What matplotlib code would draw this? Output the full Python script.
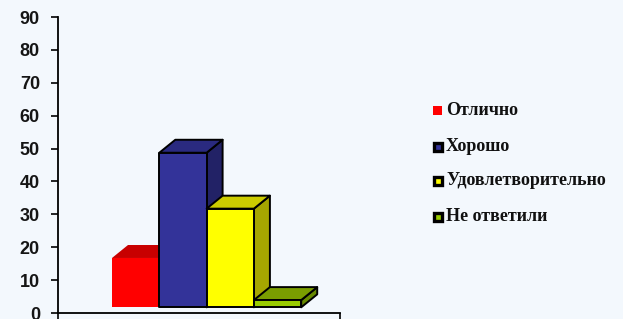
import matplotlib
matplotlib.use("Agg")
import matplotlib.pyplot as plt
from matplotlib.patches import Polygon, Rectangle

# ---- data ----
categories = ["Отлично", "Хорошо", "Удовлетворительно", "Не ответили"]
values = [15, 47, 30, 2.2]
front_colors = ["#FF0000", "#333399", "#FFFF00", "#99CC00"]
top_colors = ["#C80000", "#2A2A80", "#CCCC00", "#7A9E00"]
side_colors = ["#A00000", "#222266", "#A6A600", "#668800"]
edge_on = [False, True, True, True]
y_ticks = [0, 10, 20, 30, 40, 50, 60, 70, 80, 90]

W, H = 623, 319
fig = plt.figure(figsize=(W / 100, H / 100), dpi=100)
bg = "#F3F8FD"
fig.patch.set_facecolor(bg)

ax = fig.add_axes([58 / W, 6 / H, 282 / W, 296 / H])
ax.set_facecolor(bg)
ax.set_ylim(0, 90)
ax.set_xlim(-1.1416, 4.820)

# 3D geometry (data units)
bar_w = 1.0
dx = 16 / 47.3          # depth offset in x
dy = 13 / 3.296         # depth offset in y
base = 5.7 / 3.296      # front base sits above the axis

for i, v in enumerate(values):
    x0 = i * bar_w
    x1 = x0 + bar_w
    y0 = base
    y1 = base + v
    ec = "black" if edge_on[i] else "none"
    lw = 1.4 if edge_on[i] else 0
    top = Polygon([(x0, y1), (x1, y1), (x1 + dx, y1 + dy), (x0 + dx, y1 + dy)],
                  closed=True, facecolor=top_colors[i], edgecolor=ec, linewidth=lw,
                  joinstyle="round")
    side = Polygon([(x1, y0), (x1 + dx, y0 + dy), (x1 + dx, y1 + dy), (x1, y1)],
                   closed=True, facecolor=side_colors[i], edgecolor=ec, linewidth=lw,
                   joinstyle="round")
    front = Rectangle((x0, y0), bar_w, v, facecolor=front_colors[i], edgecolor=ec,
                      linewidth=lw, joinstyle="round")
    for p in (side, top, front):
        ax.add_patch(p)

for s in ("top", "right"):
    ax.spines[s].set_visible(False)
for s in ("left", "bottom"):
    ax.spines[s].set_linewidth(1.3)
    ax.spines[s].set_color("black")

ax.set_yticks(y_ticks)
ax.set_yticklabels([str(t) for t in y_ticks], fontsize=13, fontweight="bold",
                   family="Liberation Sans", color="#151515")
ax.tick_params(axis="y", direction="out", length=5, width=1.2, pad=8)
ax.set_xticks([-1.1416, 4.820])
ax.set_xticklabels(["", ""])
ax.tick_params(axis="x", direction="out", length=5, width=1.2)

# legend (manual)
leg_y = [110.7, 146.7, 180.7, 216.7]
for i, lab in enumerate(categories):
    yc = H - leg_y[i]
    if edge_on[i]:
        r = Rectangle((434 / W, (yc - 4) / H), 8 / W, 8 / H, transform=fig.transFigure,
                      facecolor=front_colors[i], edgecolor="black", linewidth=2.4)
    else:
        r = Rectangle((433 / W, (yc - 4.5) / H), 9 / W, 9 / H, transform=fig.transFigure,
                      facecolor=front_colors[i], edgecolor="none")
    fig.add_artist(r)
    fig.text(446 / W, yc / H, lab, fontsize=13.0, fontweight="bold",
             family="Liberation Serif", va="center", ha="left", color="#111111")

fig.savefig("out.png", dpi=100, facecolor=bg)
